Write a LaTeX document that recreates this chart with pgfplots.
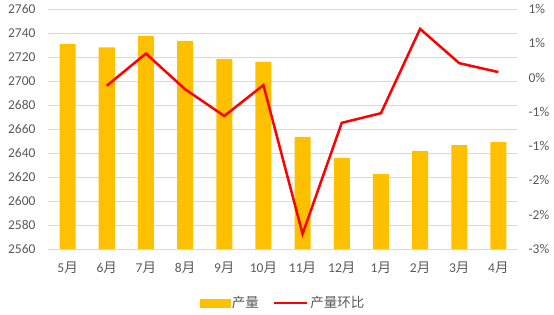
\documentclass[border=0pt]{standalone}
\usepackage{pgfplots}
\pgfplotsset{compat=1.18}
\usepackage{fontspec}
\setmainfont{Carlito}
\newfontfamily\cjk{Noto Sans CJK SC}
\definecolor{barc}{HTML}{FFC000}
\definecolor{gridc}{HTML}{D9D9D9}
\definecolor{txt}{HTML}{595959}
\begin{document}
\begin{tikzpicture}
\useasboundingbox (-48pt,-65pt) rectangle (506pt,249pt);
\pgfplotsset{
  common/.style={
    scale only axis, width=470pt, height=240pt,
    at={(0pt,0pt)}, anchor=south west,
    xmin=-0.5, xmax=11.5,
    axis line style={draw=none},
    tick style={draw=none},
    tick label style={font=\fontsize{13.5}{16}\selectfont, text=txt},
    /pgf/number format/assume math mode=true,
    /pgf/number format/set thousands separator={},
  }
}
\begin{axis}[common,
  ymin=2560, ymax=2760, ytick distance=20,
  ymajorgrids, grid style={gridc, line width=0.9pt},
  xtick={0,...,11},
  xticklabels={5{\cjk 月},6{\cjk 月},7{\cjk 月},8{\cjk 月},9{\cjk 月},10{\cjk 月},11{\cjk 月},12{\cjk 月},1{\cjk 月},2{\cjk 月},3{\cjk 月},4{\cjk 月}},
  xticklabel style={yshift=-9pt},
  yticklabel style={xshift=-9pt},
]
\addplot[ybar, bar width=16pt, fill=barc, draw=none] coordinates {
(0,2731) (1,2728) (2,2737.5) (3,2733.5) (4,2718.5) (5,2716)
(6,2653.5) (7,2636) (8,2622.5) (9,2641.5) (10,2646.5) (11,2649)};
\end{axis}
\begin{axis}[common,
  axis y line*=right, axis x line=none,
  ymin=-2.5, ymax=1, ytick={-2.5,-2,-1.5,-1,-0.5,0,0.5,1},
  yticklabels={-3\%,-2\%,-2\%,-1\%,-1\%,0\%,1\%,1\%},
  yticklabel style={xshift=7pt},
  legend columns=2,
  legend style={at={(0.5,-0.225)}, anchor=center, draw=none, fill=none,
    font=\fontsize{13.5}{15}\selectfont\cjk, text=txt,
    /tikz/every even column/.append style={column sep=12pt}},
]
\addlegendimage{legend image code/.code={\fill[barc] (0pt,-3.8pt) rectangle (30pt,3.8pt);}}
\addlegendentry{产量}
\addplot[red, line width=2.5pt, mark=none,
  legend image code/.code={\draw[red, line width=2.5pt] (0pt,0pt) -- (33pt,0pt);}] coordinates {
(1,-0.12) (2,0.35) (3,-0.17) (4,-0.56) (5,-0.11) (6,-2.28)
(7,-0.66) (8,-0.52) (9,0.71) (10,0.21) (11,0.08)};
\addlegendentry{产量环比}
\end{axis}
\end{tikzpicture}
\end{document}
